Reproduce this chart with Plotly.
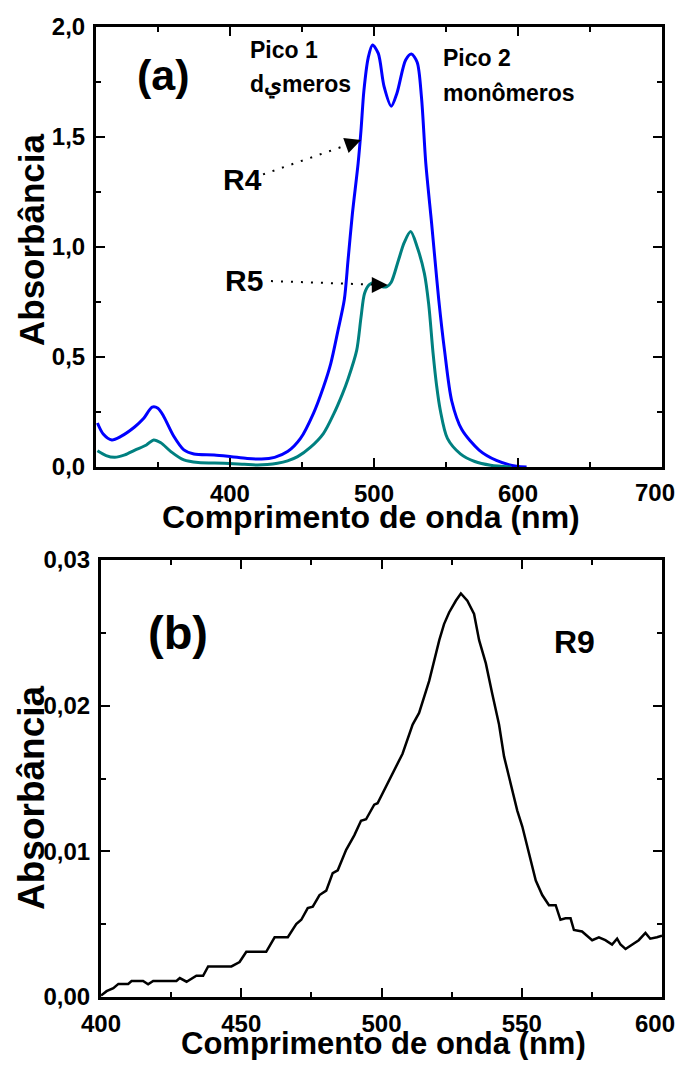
import plotly.graph_objects as go

# ---- Panel (a) data ----
r4_x = [308, 312, 318, 324, 334, 340, 346, 350, 354, 361, 368, 375, 389, 401, 412, 422, 431, 440,
        449, 458, 465, 470, 475, 479.4, 482, 485, 489, 491, 493, 496, 499, 503, 507, 512, 516, 522,
        526, 530, 533, 536, 540, 542.4, 545, 549, 554, 561, 573, 585, 599, 606]
r4_y = [0.20, 0.15, 0.123, 0.138, 0.183, 0.22, 0.272, 0.267, 0.23, 0.14, 0.078, 0.059, 0.055, 0.047,
        0.039, 0.036, 0.044, 0.070, 0.130, 0.244, 0.365, 0.47, 0.62, 0.76, 0.94, 1.15, 1.38, 1.53,
        1.71, 1.86, 1.918, 1.88, 1.73, 1.64, 1.70, 1.85, 1.877, 1.84, 1.68, 1.38, 1.11, 0.94, 0.76,
        0.53, 0.30, 0.17, 0.077, 0.03, 0.003, 0.0]

r5_x = [308, 314, 320, 327, 334, 342, 347, 352, 359, 368, 378, 396, 410, 419, 426, 433, 440, 447,
        456, 465, 472, 478, 482, 488, 491, 493.5, 497, 501, 505.5, 509, 512, 517, 521, 525.5, 530,
        535, 538, 541, 543.5, 546, 551, 560, 570, 581, 595]
r5_y = [0.074, 0.052, 0.044, 0.055, 0.077, 0.10, 0.123, 0.11, 0.07, 0.032, 0.020, 0.017, 0.012,
        0.009, 0.011, 0.017, 0.028, 0.047, 0.09, 0.153, 0.24, 0.33, 0.40, 0.53, 0.68, 0.79, 0.83,
        0.84, 0.82, 0.82, 0.84, 0.94, 1.02, 1.07, 1.00, 0.88, 0.74, 0.52, 0.37, 0.26, 0.13, 0.06,
        0.025, 0.008, 0.0]

# ---- Panel (b) data ----
r9_x = [400, 402, 404.4, 406.2, 409.7, 410.9, 415, 416.8, 418.6, 426.9, 428.1, 430.5, 434, 436.4,
        438.2, 446.5, 449.4, 451.8, 458.9, 461.9, 466.6, 469.6, 471.4, 473.7, 475.5, 477.9, 480.3,
        482.6, 484.4, 487.4, 490.3, 492.7, 494.5, 497.4, 498.6, 502.8, 506.3, 507.5, 511.1, 513.4,
        517, 518.8, 520.6, 522.3, 524.1, 526.5, 528.3, 530.6, 533, 534.8, 537.2, 539.5, 541.9,
        543.7, 546, 548.4, 550.2, 552.6, 555, 557.3, 559.7, 562.1, 563.8, 565.6, 567.4, 568.6,
        571.5, 575.1, 577.5, 579.8, 582.2, 584, 585.2, 587, 589.3, 591.7, 594.1, 595.8, 598.2, 600]
r9_y = [0.0001, 0.0004, 0.0006, 0.0009, 0.0009, 0.0011, 0.0011, 0.00087, 0.0011, 0.0011, 0.0013,
        0.00105, 0.00146, 0.00146, 0.0021, 0.0021, 0.0024, 0.0031, 0.0031, 0.0041, 0.0041, 0.0050,
        0.0053, 0.0061, 0.0062, 0.0070, 0.0073, 0.0085, 0.0087, 0.0101, 0.0111, 0.0121, 0.0122,
        0.0132, 0.0133, 0.0149, 0.0162, 0.0167, 0.0187, 0.0195, 0.0217, 0.0231, 0.0245, 0.0256,
        0.0264, 0.0272, 0.0277, 0.0272, 0.0263, 0.0245, 0.0229, 0.0208, 0.0187, 0.0165, 0.0146,
        0.0128, 0.0117, 0.0098, 0.0080, 0.0070, 0.0063, 0.0063, 0.0053, 0.0054, 0.0054, 0.0046,
        0.0045, 0.0039, 0.0041, 0.0039, 0.0036, 0.0040, 0.0036, 0.0033, 0.0036, 0.0039, 0.0044,
        0.0040, 0.0041, 0.0042]

xa_ticks = [400, 500, 600, 700]
xb_ticks = [400, 450, 500, 550, 600]
x_title = "Comprimento de onda (nm)"
y_title = "Absorbância"

FONT = "Liberation Sans, Arial, sans-serif"
OFF = 8                       # page body margin
W, H = 684 - 2 * OFF, 1068 - 2 * OFF

def dx(px):
    return (px - OFF) / W

def dy(py):
    return 1 - (py - OFF) / H

fig = go.Figure()
fig.add_trace(go.Scatter(x=r4_x, y=r4_y, mode="lines", line=dict(color="#0000ff", width=3, shape="spline", smoothing=0.8),
                         xaxis="x", yaxis="y", showlegend=False))
fig.add_trace(go.Scatter(x=r5_x, y=r5_y, mode="lines", line=dict(color="#008080", width=3, shape="spline", smoothing=0.8),
                         xaxis="x", yaxis="y", showlegend=False))
fig.add_trace(go.Scatter(x=r9_x, y=r9_y, mode="lines", line=dict(color="#000000", width=2.5),
                         xaxis="x2", yaxis="y2", showlegend=False))

tickfont = dict(family=FONT, size=24, color="black", weight="bold")
common = dict(showline=True, linecolor="black", linewidth=3, mirror="ticks", ticks="inside",
              ticklen=9, tickwidth=2, tickcolor="black", showgrid=False, zeroline=False,
              tickfont=tickfont, ticklabelstandoff=3, automargin=False, ticklabeloverflow="allow")

# last x label of each panel is drawn separately so it stays inside the page
xa_text = [str(v) for v in xa_ticks[:-1]] + [""]
xb_text = [str(v) for v in xb_ticks[:-1]] + [""]

fig.update_layout(
    width=W, height=H, margin=dict(l=0, r=0, t=0, b=0),
    paper_bgcolor="white", plot_bgcolor="white", separators=",.",
    xaxis=dict(domain=[dx(96), dx(662)], range=[307, 700], anchor="y",
               tickmode="array", tickvals=xa_ticks, ticktext=xa_text,
               minor=dict(ticks="inside", ticklen=5, tickwidth=2, dtick=50, tick0=0, tickcolor="black"),
               **common),
    yaxis=dict(domain=[dy(467), dy(27)], range=[0, 2.0], anchor="x", dtick=0.5, tickformat=".1f",
               minor=dict(ticks="inside", ticklen=5, tickwidth=2, dtick=0.25, tickcolor="black"),
               **common),
    xaxis2=dict(domain=[dx(101), dx(662)], range=[400, 600], anchor="y2",
                tickmode="array", tickvals=xb_ticks, ticktext=xb_text,
                minor=dict(ticks="inside", ticklen=5, tickwidth=2, dtick=25, tick0=0, tickcolor="black"),
                **common),
    yaxis2=dict(domain=[dy(997), dy(560)], range=[0, 0.03], anchor="x2", dtick=0.01, tickformat=".2f",
                minor=dict(ticks="inside", ticklen=5, tickwidth=2, dtick=0.005, tickcolor="black"),
                **common),
)

def ptxt(px, py, s, size, angle=0, xanchor="center"):
    fig.add_annotation(x=dx(px), y=dy(py), xref="paper", yref="paper", text=s, showarrow=False,
                       xanchor=xanchor, yanchor="middle", textangle=angle,
                       font=dict(family=FONT, size=size, color="black", weight="bold"))

ptxt(371, 517, x_title, 32)
ptxt(383, 1043, x_title, 31)
ptxt(31, 240, y_title, 35, -90)
ptxt(31, 798, y_title, 37, -90)
ptxt(677, 493, str(xa_ticks[-1]), 24, xanchor="right")
ptxt(677, 1023, str(xb_ticks[-1]), 24, xanchor="right")

def txt(x, y, s, size, xr="x", yr="y", xanchor="center"):
    fig.add_annotation(x=x, y=y, xref=xr, yref=yr, text=s, showarrow=False, xanchor=xanchor,
                       yanchor="middle", font=dict(family=FONT, size=size, color="black", weight="bold"))

txt(354.2, 1.78, "(a)", 43)
txt(412.6, 1.895, "Pico 1", 23, xanchor="left")
txt(412.6, 1.736, "dيmeros", 23, xanchor="left")
txt(546.6, 1.859, "Pico 2", 23, xanchor="left")
txt(546.6, 1.70, "monômeros", 23, xanchor="left")
txt(408.4, 1.305, "R4", 30)
txt(409.8, 0.85, "R5", 30)
txt(427.5, 0.025, "(b)", 47, "x2", "y2")
txt(568.9, 0.0244, "R9", 32, "x2", "y2")

# dotted arrows
for (x0, y0, x1, y1, ax, ay) in [(423, 1.33, 491, 1.486, -14, 5), (428.5, 0.845, 509.6, 0.827, -15, 0)]:
    fig.add_shape(type="line", x0=x0, y0=y0, x1=x1, y1=y1, xref="x", yref="y",
                  line=dict(color="black", width=2, dash="2px,8px"))
    fig.add_annotation(x=x1, y=y1, xref="x", yref="y", ax=ax, ay=ay, text="", showarrow=True,
                       arrowhead=2, arrowsize=1.6, arrowwidth=2, arrowcolor="black")

fig.write_html("out.html")
